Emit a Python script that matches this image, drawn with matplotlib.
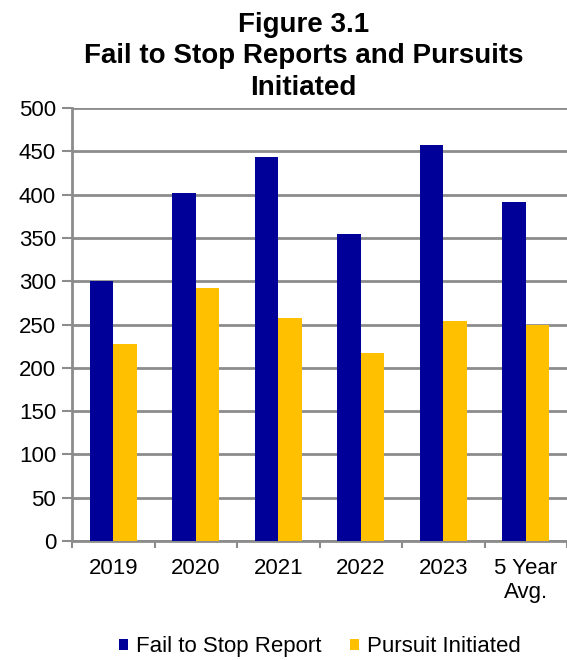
import matplotlib
matplotlib.use("Agg")
import matplotlib.pyplot as plt
import numpy as np

plt.rcParams['font.family'] = ['Liberation Sans', 'DejaVu Sans']

categories = ["2019", "2020", "2021", "2022", "2023", "5 Year\nAvg."]
fail_to_stop = [300, 402, 443, 354, 457, 391]
pursuit = [228, 292, 258, 217, 254, 250]

blue = "#000099"
yellow = "#FFC000"
grey = "#8c8c8c"

fig = plt.figure(figsize=(5.67, 6.6), dpi=100)
ax = fig.add_axes([0.127, 0.1803, 0.873, 0.656])

x = np.arange(len(categories))
w = 0.285
ax.bar(x - w / 2, fail_to_stop, width=w, color=blue, label="Fail to Stop Report", zorder=3)
ax.bar(x + w / 2, pursuit, width=w, color=yellow, label="Pursuit Initiated", zorder=3)

# plot area runs a little past the right edge of the image
ax.set_xlim(-0.5, len(categories) - 0.525)
ax.set_ylim(0, 500)
ax.set_yticks(range(0, 501, 50))
ax.yaxis.grid(True, color=grey, linewidth=2, zorder=0)

ax.set_xticks(x)
ax.set_xticklabels(categories, fontsize=16)
ax.tick_params(axis="x", length=0, pad=12)
ax.set_xticks(np.arange(-0.5, len(categories), 1), minor=True)
ax.tick_params(axis="x", which="minor", length=5, width=1.5, color=grey, direction="out")
ax.tick_params(axis="y", labelsize=16, length=7, width=1.5, color=grey, pad=4.5)

for s in ["top", "right"]:
    ax.spines[s].set_visible(False)
for s in ["left", "bottom"]:
    ax.spines[s].set_color(grey)
    ax.spines[s].set_linewidth(2)

fig.text(0.535, 0.982, "Figure 3.1\nFail to Stop Reports and Pursuits\nInitiated",
         ha="center", va="top", fontsize=20, fontweight="bold", linespacing=1.28)

fig.legend(loc="center", bbox_to_anchor=(0.564, 0.02), ncol=2, frameon=False,
           fontsize=16, handlelength=0.42, handleheight=0.42, handletextpad=0.33,
           columnspacing=1.3)

fig.savefig("out.png", dpi=100)
